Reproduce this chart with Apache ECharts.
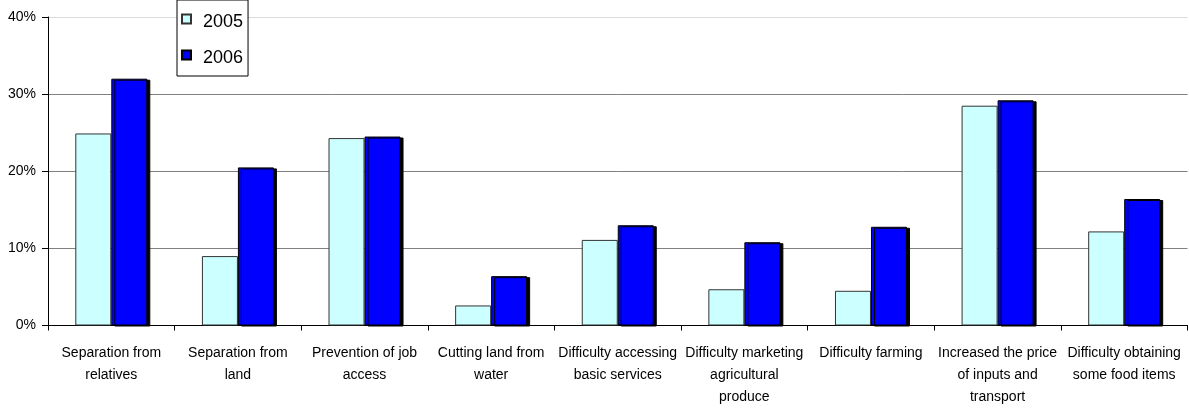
<!DOCTYPE html>
<html>
<head>
<meta charset="utf-8">
<script src="https://cdn.jsdelivr.net/npm/echarts@6/dist/echarts.min.js"></script>
<style>
html,body{margin:0;padding:0;background:#fff}
#chart{width:1189px;height:409px}
</style>
</head>
<body>
<div id="chart"></div>
<script>

// chart data

const categories = [
"Separation from\nrelatives",
"Separation from\nland",
"Prevention of job\naccess",
"Cutting land from\nwater",
"Difficulty accessing\nbasic services",
"Difficulty marketing\nagricultural\nproduce",
"Difficulty farming",
"Increased the price\nof inputs and\ntransport",
"Difficulty obtaining\nsome food items"
]

const seriesNames = ["2005","2006"]

const values2005 = [24.9, 9.0, 24.3, 2.6, 11.1, 4.7, 4.5, 28.5, 12.2]
const values2006 = [32.0, 20.5, 24.5, 6.4, 13.0, 10.8, 12.8, 29.2, 16.4]

const yTicks = {min:0, max:40, step:10}

const font = "'Liberation Sans', Arial, sans-serif"

const el = document.getElementById("chart")
const chart = echarts.init(el)

chart.setOption({

animation:false,

grid:{left:48,right:1.5,top:17,bottom:83.5},

legend:{
orient:"vertical",
left:177,
top:0,
data:seriesNames,
itemWidth:9,
itemHeight:9,
itemGap:12,
padding:[7,5,9,4],
borderColor:"#000",
borderWidth:1,
backgroundColor:"#fff",
icon:"rect",
formatter:"{t|{name}}",
textStyle:{
fontFamily:font,
fontSize:18,
color:"#000",
rich:{
t:{
fontFamily:font,
fontSize:18,
lineHeight:18,
color:"#000",
padding:[6,0,0,7]
}
}
}
},

xAxis:{
type:"category",
data:categories,
axisLine:{lineStyle:{color:"#000",width:1}},
axisTick:{show:true,length:5,lineStyle:{color:"#000"}},
axisLabel:{
interval:0,
margin:17,
color:"#000",
fontFamily:font,
fontSize:14,
lineHeight:22
}
},

yAxis:{
type:"value",
min:yTicks.min,
max:yTicks.max,
interval:yTicks.step,
axisLine:{show:true,lineStyle:{color:"#000",width:1}},
axisTick:{show:true,length:6,lineStyle:{color:"#000"}},
axisLabel:{
margin:12,
color:"#000",
fontFamily:font,
fontSize:14,
formatter:"{value}%"
},
splitLine:{
show:true,
lineStyle:{color:["#808080","#808080","#808080","#808080","#dcdcdc"],width:1}
}
},

series:[
{
name:seriesNames[0],
type:"bar",
data:values2005,
barWidth:36,
barGap:"0%",
itemStyle:{color:"#CCFFFF",borderColor:"#333",borderWidth:1}
},
{
name:seriesNames[1],
type:"bar",
data:values2006,
barWidth:36,
barGap:"0%",
itemStyle:{
color:"#0000FF",
borderColor:"#000",
borderWidth:1,
shadowColor:"#000",
shadowBlur:0,
shadowOffsetX:3,
shadowOffsetY:1
}
}
]

})

</script>
</body>
</html>
